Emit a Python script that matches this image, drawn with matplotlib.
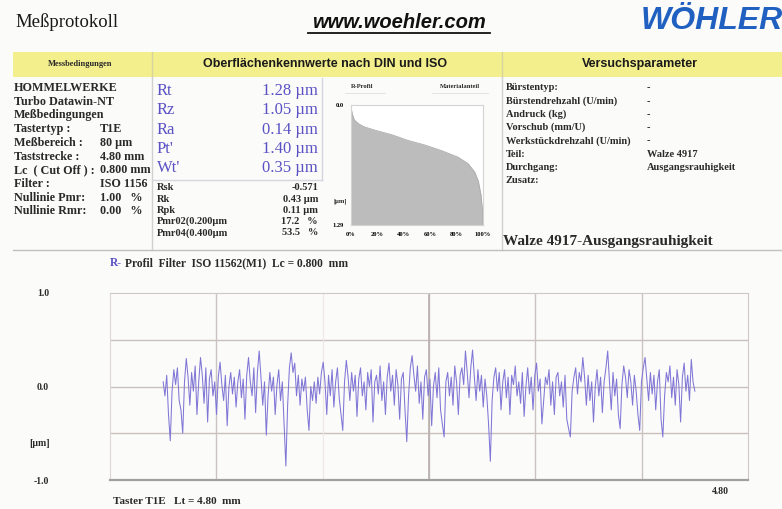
import numpy as np
import matplotlib
matplotlib.use("Agg")
import matplotlib.pyplot as plt
from matplotlib.lines import Line2D
from matplotlib.patches import Rectangle

# ---------------- data ----------------
mess_labels = ["HOMMELWERKE", "Turbo Datawin-NT", "Meßbedingungen", "Tastertyp :",
               "Meßbereich :", "Taststrecke :", "Lc  ( Cut Off ) :", "Filter :",
               "Nullinie Pmr:", "Nullinie Rmr:"]
mess_values = ["", "", "", "T1E", "80 µm", "4.80 mm", "0.800 mm", "ISO 1156",
               "1.00   %", "0.00   %"]

main_params = ["Rt", "Rz", "Ra", "Pt'", "Wt'"]
main_values = ["1.28 µm", "1.05 µm", "0.14 µm", "1.40 µm", "0.35 µm"]

sub_params = ["Rsk", "Rk", "Rpk", "Pmr02(0.200µm", "Pmr04(0.400µm"]
sub_values = ["-0.571", "0.43 µm", "0.11 µm", "17.2   %", "53.5   %"]

vers_labels = ["Bürstentyp:", "Bürstendrehzahl (U/min)", "Andruck (kg)", "Vorschub (mm/U)",
               "Werkstückdrehzahl (U/min)", "Teil:", "Durchgang:", "Zusatz:"]
vers_values = ["-", "-", "-", "-", "-", "Walze 4917", "Ausgangsrauhigkeit", ""]

# material ratio (Abbott) curve
mr_pct = [0, 1.0, 2.5, 5.5, 10, 18, 31, 43, 56, 68.5, 81, 88.7, 93.7, 96.5, 98.5, 99.5, 100]
mr_depth = [0.02, 0.10, 0.16, 0.20, 0.235, 0.27, 0.32, 0.38, 0.43, 0.49, 0.56, 0.63, 0.72, 0.82, 0.97, 1.12, 1.29]
mr_xticks = [0, 20, 40, 60, 80, 100]
mr_xlabels = ["0%", "20%", "40%", "60%", "80%", "100%"]

# R-profile (µm), sampled evenly from 0.4 mm to 4.4 mm
profile_start_mm = 0.4
profile_end_mm = 4.4
profile_um = [
    0.05, -0.10, 0.12, -0.30, -0.58, -0.05, 0.18, 0.02, 0.20, -0.15, -0.25, -0.50, 0.05, 0.30, 0.10, -0.20, 0.15, -0.05, 0.22, -0.30,
    0.05, 0.31, 0.12, -0.18, 0.20, -0.38, 0.08, 0.18, -0.10, 0.05, -0.30, 0.10, 0.26, 0.02, -0.15, 0.12, -0.42, 0.00, 0.15, -0.08,
    0.10, -0.22, 0.05, 0.18, -0.12, 0.08, -0.35, 0.12, 0.31, 0.05, -0.10, 0.20, -0.28, 0.15, 0.38, 0.10, -0.20, 0.05, -0.52, -0.10,
    0.15, -0.05, 0.10, -0.30, 0.02, 0.18, -0.15, 0.05, -0.40, -0.85, -0.20, 0.20, 0.36, 0.15, 0.25, -0.10, 0.12, -0.20, 0.08, -0.05,
    0.10, -0.25, -0.47, 0.00, -0.15, 0.05, -0.18, 0.10, -0.08, 0.15, 0.26, 0.05, -0.30, 0.12, -0.10, 0.18, -0.22, 0.05, 0.20, -0.12,
    -0.30, -0.47, 0.05, 0.28, 0.10, -0.15, 0.15, -0.05, 0.12, -0.32, 0.08, 0.20, -0.10, 0.05, -0.25, 0.15, 0.00, 0.18, -0.38, 0.05,
    0.12, -0.08, 0.22, -0.15, 0.05, -0.30, 0.10, 0.25, -0.05, 0.12, -0.20, 0.18, 0.02, -0.35, 0.08, 0.15, -0.25, -0.59, -0.10, 0.20,
    0.33, 0.12, -0.05, 0.22, -0.18, 0.05, -0.35, 0.10, 0.18, -0.10, 0.08, -0.42, 0.00, 0.15, -0.12, 0.20, -0.25, -0.40, -0.54, 0.05,
    0.15, -0.10, 0.10, -0.20, 0.22, 0.05, -0.30, 0.12, 0.20, 0.02, 0.38, 0.15, -0.12, 0.20, 0.39, 0.10, -0.15, 0.18, -0.05, 0.12,
    -0.22, 0.08, -0.10, -0.40, -0.80, -0.15, 0.10, 0.20, -0.05, 0.15, -0.25, 0.05, 0.18, -0.12, 0.10, -0.30, 0.12, 0.02, 0.22, -0.10,
    0.05, -0.18, 0.15, -0.32, 0.00, 0.20, -0.08, 0.10, -0.25, 0.12, 0.25, -0.05, 0.08, -0.40, -0.15, 0.10, 0.02, 0.18, -0.20, 0.05,
    -0.30, 0.10, 0.15, -0.10, 0.05, -0.22, 0.12, -0.35, -0.45, -0.54, -0.05, 0.10, 0.20, -0.08, 0.15, 0.05, 0.31, 0.10, -0.20, 0.12,
    -0.15, 0.05, -0.38, 0.00, 0.18, -0.10, 0.10, -0.28, 0.05, 0.20, 0.38, 0.05, -0.25, 0.15, -0.10, 0.08, -0.30, -0.45, 0.02, 0.22,
    0.10, -0.12, 0.18, 0.05, -0.20, 0.12, -0.05, -0.30, -0.47, 0.05, 0.20, 0.31, 0.08, -0.15, 0.15, -0.08, 0.12, -0.25, 0.05, 0.18,
    -0.35, -0.54, -0.10, 0.15, 0.05, 0.22, -0.12, 0.10, -0.20, 0.18, 0.02, -0.38, 0.10, 0.25, -0.05, 0.12, -0.15, 0.29, 0.05, -0.05,
]
profile_xlim = (0.0, 4.8)
profile_yticks = [1.0, 0.0, -1.0]
profile_ylabels = ["1.0", "0.0", "-1.0"]
profile_vgrid = [0.8, 2.4, 3.2, 4.0]
profile_vgrid_faint = [1.6]
profile_hgrid = [0.5, 0.0, -0.5]

# ---------------- figure ----------------
W, H = 782, 509
fig = plt.figure(figsize=(W / 100, H / 100), dpi=100)
fig.patch.set_facecolor("#fbfbfa")

SERIF = "Liberation Serif"
SANS = "Liberation Sans"
BLUE = "#5a52c4"
DARK = "#2a2a2a"


def T(x, y, s, **kw):
    kw.setdefault("va", "center")
    kw.setdefault("family", SERIF)
    kw.setdefault("color", DARK)
    return fig.text(x / W, 1 - y / H, s, **kw)


def hline(x0, x1, y, **kw):
    fig.add_artist(Line2D([x0 / W, x1 / W], [1 - y / H, 1 - y / H], **kw))


def vline(x, y0, y1, **kw):
    fig.add_artist(Line2D([x / W, x / W], [1 - y0 / H, 1 - y1 / H], **kw))


# header
T(15, 22, "Meßprotokoll", fontsize=13.5, color="#1a1a1a")
T(399, 22, "www.woehler.com", fontsize=14.5, family=SANS, weight="bold",
  style="italic", ha="center", color="#111111")
hline(308, 490, 33, color="#111111", lw=1.3)
T(641, 21, "WÖHLER", fontsize=23, family=SANS, weight="bold", style="italic",
  color="#2060c0")

# yellow band
fig.add_artist(Rectangle((13 / W, 1 - 77 / H), (W - 13) / W, 25 / H,
                         transform=fig.transFigure, facecolor="#f3ef8c",
                         edgecolor="none"))
vline(152, 52, 77, color="#d8d4a0", lw=1)
vline(502, 52, 77, color="#d8d4a0", lw=1)
T(80, 64, "Messbedingungen", fontsize=6, weight="bold", ha="center")
T(325, 64, "Oberflächenkennwerte nach DIN und ISO", fontsize=9, family=SANS,
  weight="bold", ha="center", color="#1a1a1a")
T(640, 64, "Versuchsparameter", fontsize=9, family=SANS, weight="bold",
  ha="center", color="#1a1a1a")

# section separators
vline(152, 77, 250, color="#d0d0d0", lw=1)
vline(502, 77, 250, color="#d0d0d0", lw=1)
hline(13, 782, 250, color="#c0c0c0", lw=1)
vline(322, 78, 180, color="#d6d6e0", lw=1)
hline(152, 322, 180, color="#d6d6e0", lw=1)

# left column
for i, (lab, val) in enumerate(zip(mess_labels, mess_values)):
    y = 88 + i * 13.7
    T(14, y, lab, fontsize=8.7, weight="bold")
    if val:
        T(100, y, val, fontsize=8.7, weight="bold")

# main parameters
for i, (lab, val) in enumerate(zip(main_params, main_values)):
    y = 91 + i * 19.3
    T(157, y, lab, fontsize=12, color=BLUE)
    T(318, y, val, fontsize=12, color=BLUE, ha="right")

# sub parameters
for i, (lab, val) in enumerate(zip(sub_params, sub_values)):
    y = 188 + i * 11.2
    T(157, y, lab, fontsize=7.5, weight="bold")
    T(318, y, val, fontsize=7.5, weight="bold", ha="right")

# right column
for i, (lab, val) in enumerate(zip(vers_labels, vers_values)):
    y = 88 + i * 13.2
    T(506, y, lab, fontsize=7.5, weight="bold")
    if val:
        T(647, y, val, fontsize=7.5, weight="bold")
T(503, 241, "Walze 4917-Ausgangsrauhigkeit", fontsize=11, weight="bold")

# material ratio chart
ax2 = fig.add_axes([351 / W, 1 - 225 / H, 132 / W, 120 / H])
ax2.set_facecolor("white")
ax2.fill_between(mr_pct, mr_depth, 1.29, color="#bcbcbc", lw=0)
ax2.plot(mr_pct, mr_depth, color="#aaaaaa", lw=0.6)
ax2.set_xlim(0, 100)
ax2.set_ylim(1.29, 0)
ax2.set_xticks(mr_xticks)
ax2.set_xticklabels(mr_xlabels, fontsize=4.7, family=SERIF, weight="bold")
ax2.set_yticks([0.0, 1.29])
ax2.set_yticklabels(["0.0", "1.29"], fontsize=4.7, family=SERIF, weight="bold")
ax2.tick_params(length=0, pad=5)
for s in ax2.spines.values():
    s.set_color("#d4d4d4")
    s.set_linewidth(0.8)
T(340, 201, "[µm]", fontsize=4.7, weight="bold", ha="center")
T(362, 87, "R-Profil", fontsize=4.7, weight="bold", ha="center")
T(460, 87, "Materialanteil", fontsize=4.7, weight="bold", ha="center")
hline(345, 385, 93, color="#e0e0e0", lw=0.6)
hline(432, 488, 93, color="#e0e0e0", lw=0.6)

# R-profile chart
T(110, 266, "R-", fontsize=8.3, weight="bold", color=BLUE, ha="left", va="baseline")
T(125, 266, "Profil  Filter  ISO 11562(M1)  Lc = 0.800  mm", fontsize=8.3,
  weight="bold", ha="left", va="baseline")

ax = fig.add_axes([110 / W, 1 - 480 / H, 638 / W, 187 / H])
ax.set_facecolor("none")
for yg in profile_hgrid:
    ax.axhline(yg, color="#cbbfbb", lw=1.0, zorder=1)
for xg in profile_vgrid:
    ax.axvline(xg, color="#cbc3c0", lw=1.0, zorder=1)
for xg in profile_vgrid_faint:
    ax.axvline(xg, color="#ece8e6", lw=0.8, zorder=1)
ax.axvline(2.4, color="#b8b0ac", lw=1.2, zorder=1)
xs = np.linspace(profile_start_mm, profile_end_mm, len(profile_um))
ax.plot(xs, profile_um, color="#8076d6", lw=0.75, zorder=3)
ax.set_xlim(*profile_xlim)
ax.set_ylim(-1.0, 1.0)
ax.set_xticks([])
ax.set_yticks(profile_yticks)
ax.set_yticklabels(profile_ylabels, fontsize=7, family=SERIF, weight="bold",
                   color=DARK)
ax.tick_params(axis="y", length=0, pad=44)
ax.spines["top"].set_color("#cfc7c3")
ax.spines["left"].set_color("#ddd6d3")
ax.spines["right"].set_color("#cfc7c3")
ax.spines["bottom"].set_color("#a0a0a0")
ax.spines["bottom"].set_linewidth(1.6)
T(40, 443, "[µm]", fontsize=7, weight="bold", ha="center")
T(720, 491, "4.80", fontsize=7, weight="bold", ha="center")
T(113, 501, "Taster T1E   Lt = 4.80  mm", fontsize=8, weight="bold")

fig.savefig("out.png", dpi=100, facecolor=fig.get_facecolor())
